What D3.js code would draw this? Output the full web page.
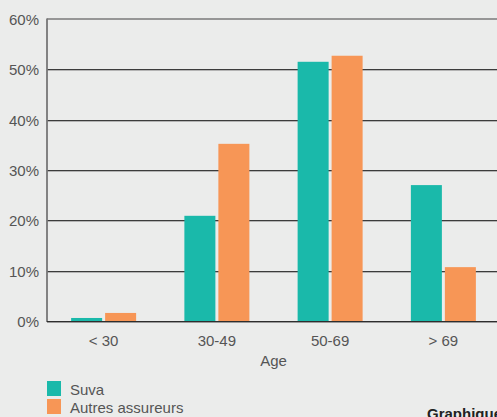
<!DOCTYPE html>
<html>
<head>
<meta charset="utf-8">
<script src="https://cdn.jsdelivr.net/npm/d3@7/dist/d3.min.js"></script>
<style>
  html, body { margin: 0; padding: 0; background: #ebeceb; overflow: hidden; }
  svg { display: block; }
  text { font-family: "Liberation Sans", Arial, sans-serif; }
</style>
</head>
<body>
<svg id="chart" width="497" height="417"></svg>
<script>
// Age groups and share of cases per insurer (in %)
const categories = ["< 30", "30-49", "50-69", "> 69"];
const seriesNames = ["Suva", "Autres assureurs"];
const suvaValues = [0.6, 20.9, 51.5, 27.0];
const autresValues = [1.6, 35.2, 52.7, 10.7];
const yTicks = [0, 10, 20, 30, 40, 50, 60];
const colors = ["#1ab9aa", "#f79656"];

const svg = d3.select("#chart");
const W = 497, H = 417;
svg.append("rect").attr("width", W).attr("height", H).attr("fill", "#ebeceb");

const x0 = 47, x1 = 500, yBottom = 321, yTop = 19;

const x = d3.scaleBand().domain(categories).range([x0, x1]).padding(0);
const bw = x.bandwidth();
const xInner = d3.scaleBand().domain(seriesNames)
  .range([bw / 2 - 32.5, bw / 2 + 32.5]).paddingInner(0.088).paddingOuter(0);
const y = d3.scaleLinear().domain([0, 60]).range([yBottom, yTop]);

// Gridlines
const grid = svg.append("g");
yTicks.forEach(t => {
  const yy = Math.round(y(t));
  if (t === 60) {
    grid.append("line").attr("x1", x0).attr("x2", W).attr("y1", yy).attr("y2", yy)
      .attr("stroke", "#7a7a7a").attr("stroke-width", 1.6);
  } else if (t !== 0) {
    grid.append("line").attr("x1", x0).attr("x2", W).attr("y1", yy + 0.5).attr("y2", yy + 0.5)
      .attr("stroke", "#3c3c3c").attr("stroke-width", 1);
    grid.append("line").attr("x1", x0).attr("x2", W).attr("y1", yy + 1.5).attr("y2", yy + 1.5)
      .attr("stroke", "#b4b4b4").attr("stroke-width", 1);
  }
});

// Bars
const data = categories.map((c, i) => ({ cat: c, vals: [suvaValues[i], autresValues[i]] }));
const groups = svg.append("g").selectAll("g").data(data).join("g")
  .attr("transform", d => `translate(${x(d.cat)},0)`);
groups.selectAll("rect")
  .data(d => d.vals.map((v, k) => ({ name: seriesNames[k], v, k })))
  .join("rect")
  .attr("x", d => xInner(d.name))
  .attr("width", xInner.bandwidth())
  .attr("y", d => y(d.v))
  .attr("height", d => y(0) - y(d.v))
  .attr("fill", d => colors[d.k]);

// Y axis line and baseline
svg.append("line").attr("x1", x0).attr("x2", x0).attr("y1", yTop - 0.5).attr("y2", yBottom + 1)
  .attr("stroke", "#777").attr("stroke-width", 1.8);
svg.append("line").attr("x1", x0).attr("x2", W).attr("y1", yBottom + 0.5).attr("y2", yBottom + 0.5)
  .attr("stroke", "#2e2e2e").attr("stroke-width", 1.2);
svg.append("line").attr("x1", x0).attr("x2", W).attr("y1", yBottom + 1.5).attr("y2", yBottom + 1.5)
  .attr("stroke", "#9a9a9a").attr("stroke-width", 1);

// Y tick labels
const yAxis = d3.axisLeft(y).tickValues(yTicks).tickFormat(d => d + "%").tickSize(0).tickPadding(0);
const ya = svg.append("g").attr("transform", `translate(${39},0)`).call(yAxis);
ya.select(".domain").remove();
ya.selectAll("text").attr("font-size", 15).attr("fill", "#555")
  .attr("font-family", "Liberation Sans, Arial, sans-serif").attr("dy", "0.36em");

// X tick labels
const xAxis = d3.axisBottom(x).tickSize(0).tickPadding(0);
const xa = svg.append("g").attr("transform", `translate(0,${335})`).call(xAxis);
xa.select(".domain").remove();
xa.selectAll("text").attr("font-size", 15).attr("fill", "#555")
  .attr("font-family", "Liberation Sans, Arial, sans-serif").attr("dy", "0.73em");

// Axis title
svg.append("text").attr("x", (x0 + x1) / 2).attr("y", 366).attr("text-anchor", "middle")
  .attr("font-size", 15).attr("fill", "#555").text("Age");

// Legend
const legend = svg.append("g");
seriesNames.forEach((n, i) => {
  legend.append("rect").attr("x", 47).attr("y", 381 + i * 18).attr("width", 14).attr("height", 15)
    .attr("fill", colors[i]);
  legend.append("text").attr("x", 70).attr("y", 395 + i * 18).attr("font-size", 15)
    .attr("fill", "#555").text(n);
});

// Caption (runs past the right edge)
svg.append("text").attr("x", 427).attr("y", 419).attr("font-size", 15).attr("font-weight", "bold")
  .attr("fill", "#222").text("Graphique");
</script>
</body>
</html>
